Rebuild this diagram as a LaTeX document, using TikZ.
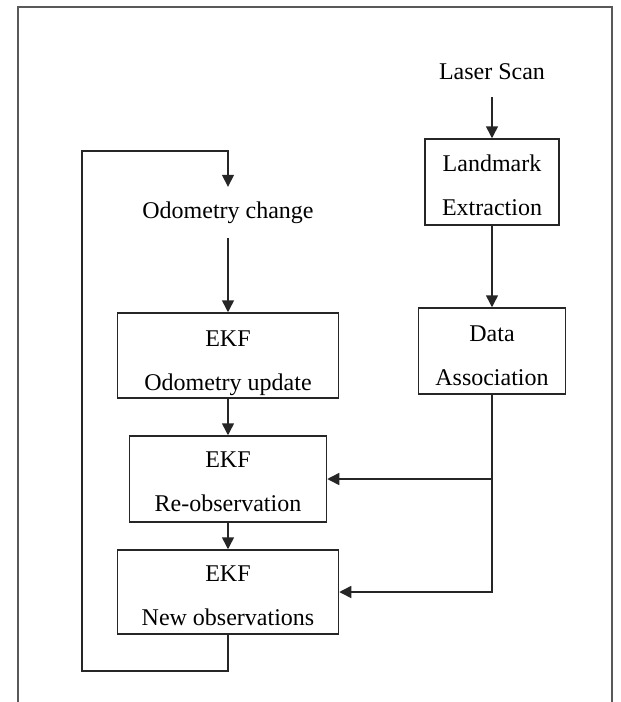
\documentclass[tikz,border=0pt]{standalone}
\usepackage{fontspec}
\setmainfont{Liberation Serif}
\usetikzlibrary{arrows.meta}
\begin{document}
\begin{tikzpicture}[x=1pt,y=-1pt,
  every node/.style={font=\fontsize{24}{44}\selectfont, text=black},
  box/.style={draw=black!85, line width=1.5pt, rectangle, inner sep=0pt},
  btext/.style={align=center, inner sep=0pt},
  lbl/.style={inner xsep=2pt, inner ysep=15pt, text height=16pt, text depth=5pt},
  conn/.style={draw=black!85, line width=1.5pt},
  arr/.style={conn, -{Triangle[length=12pt,width=12pt]}},
  frame/.style={draw=black!65, line width=2pt}
]
\useasboundingbox (0,0) rectangle (621,702);
\fill[white] (0,0) rectangle (621,702);
% outer frame (open at the bottom)
\draw[frame] (18,702) -- (18,7) -- (612,7) -- (612,702);

% nodes
\node[lbl, inner ysep=13pt, anchor=base] (laser) at (492,79) {Laser Scan};
\node[box, minimum width=134pt, minimum height=86pt,
  label={[btext, yshift=-3.5pt]center:{Landmark\\Extraction}}] (lm) at (492,182) {};
\node[box, minimum width=147pt, minimum height=86pt,
  label={[btext, yshift=-5pt]center:{Data\\Association}}] (da) at (492,351) {};
\node[lbl, anchor=base] (odo) at (228,218) {Odometry change};
\node[box, minimum width=221pt, minimum height=85pt,
  label={[btext, yshift=-7.5pt]center:{EKF\\Odometry update}}] (ou) at (228,355.5) {};
\node[box, minimum width=197pt, minimum height=86pt,
  label={[btext, yshift=-3pt]center:{EKF\\Re-observation}}] (ro) at (228,479) {};
\node[box, minimum width=221pt, minimum height=84pt,
  label={[btext, yshift=-4pt]center:{EKF\\New observations}}] (no) at (228,592) {};

\coordinate (lb) at (82,671);
\coordinate (lt) at (82,151);

% connectors
\draw[arr] (laser.south -| lm.north) -- (lm.north);
\draw[arr] (lm.south) -- (da.north);
\draw[arr] (odo.south) -- (ou.north);
\draw[arr] (ou.south) -- (ro.north);
\draw[arr] (ro.south) -- (no.north);
\draw[arr] (da.south) |- (no.east);
\draw[arr] (da.south |- ro.east) -- (ro.east);
\draw[arr] (no.south) |- (lb) -- (lt) -| (odo.north);
\end{tikzpicture}
\end{document}
